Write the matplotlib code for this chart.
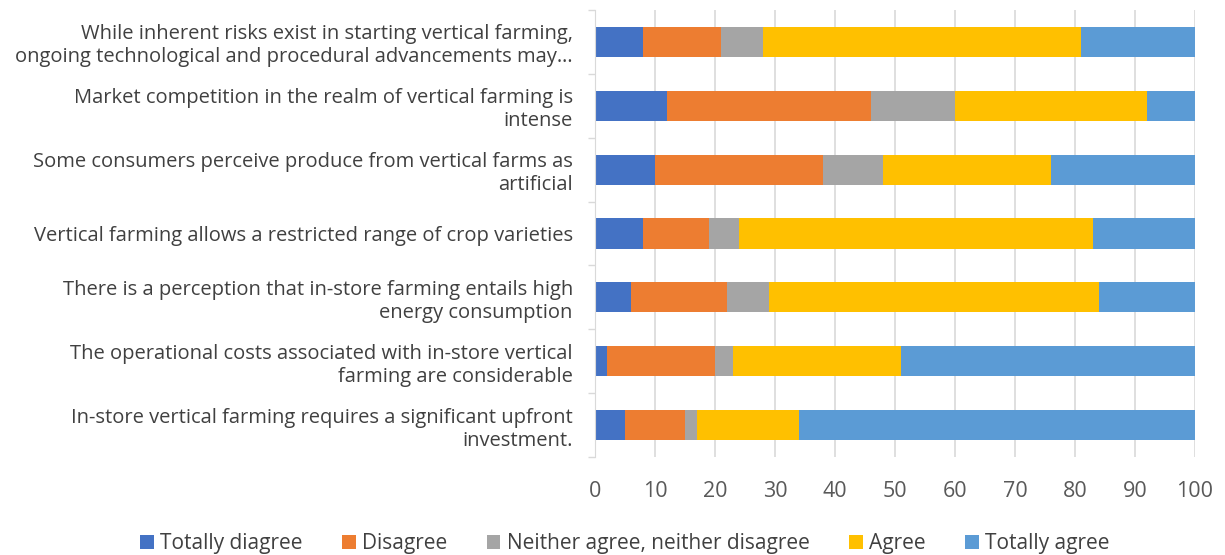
import matplotlib.pyplot as plt
import numpy as np

plt.rcParams['font.family'] = ['Open Sans', 'DejaVu Sans']

statements = [
    "While inherent risks exist in starting vertical farming,\nongoing technological and procedural advancements may\u2026",
    "Market competition in the realm of vertical farming is\nintense",
    "Some consumers perceive produce from vertical farms as\nartificial",
    "Vertical farming allows a restricted range of crop varieties",
    "There is a perception that in-store farming entails high\nenergy consumption",
    "The operational costs associated with in-store vertical\nfarming are considerable",
    "In-store vertical farming requires a significant upfront\ninvestment.",
]
answers = ["Totally diagree", "Disagree", "Neither agree, neither disagree", "Agree", "Totally agree"]
totally_disagree = [8, 12, 10, 8, 6, 2, 5]
disagree = [13, 34, 28, 11, 16, 18, 10]
neutral = [7, 14, 10, 5, 7, 3, 2]
agree = [53, 32, 28, 59, 55, 28, 17]
totally_agree = [19, 8, 24, 17, 16, 49, 66]
colors = ["#4472C4", "#ED7D31", "#A5A5A5", "#FFC000", "#5B9BD5"]

series = [totally_disagree, disagree, neutral, agree, totally_agree]

fig = plt.figure(figsize=(12.25, 5.55), dpi=100)
ax = fig.add_axes([595 / 1225, 1 - 457 / 555, 600 / 1225, 447 / 555])

y = np.arange(len(statements))
left = np.zeros(len(statements))
for vals, name, c in zip(series, answers, colors):
    ax.barh(y, vals, left=left, height=0.47, color=c, label=name)
    left += np.array(vals)

ax.set_ylim(len(statements) - 0.5, -0.5)
ax.set_xlim(0, 100)
ax.set_xticks(range(0, 101, 10))
ax.set_yticks(y)
ax.set_yticklabels(statements, fontsize=14.5, color="#404040", ha="right")
ax.set_yticks(np.arange(-0.5, len(statements), 1), minor=True)
ax.tick_params(axis="y", which="major", length=0, pad=16)
ax.tick_params(axis="y", which="minor", length=5, color="#D9D9D9", width=1)
ax.tick_params(axis="x", length=0, labelsize=15.5, labelcolor="#595959", pad=17)
ax.grid(axis="x", color="#D9D9D9", linewidth=1.2)
ax.set_axisbelow(True)
for s in ["top", "right", "bottom"]:
    ax.spines[s].set_visible(False)
ax.spines["left"].set_color("#D9D9D9")

fig.legend(loc="lower center", ncol=5, bbox_to_anchor=(0.51, -0.032), frameon=False,
           fontsize=15, handlelength=0.65, handleheight=0.65, handletextpad=0.3,
           columnspacing=1.9, labelcolor="#404040")

fig.savefig("out.png", dpi=100)
